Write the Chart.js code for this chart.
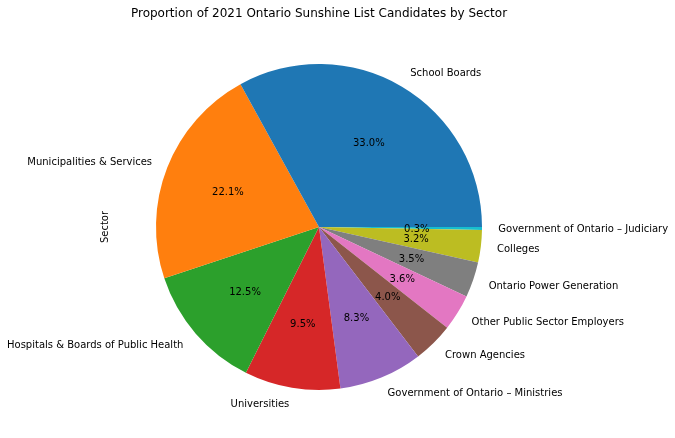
<!DOCTYPE html>
<html>
<head>
<meta charset="utf-8">
<script src="https://cdn.jsdelivr.net/npm/chart.js@4"></script>
<style>
  html, body { margin: 0; padding: 0; background: #ffffff; }
  #wrap { width: 675px; height: 438px; }
</style>
</head>
<body>
<div id="wrap"><canvas id="pieChart" width="675" height="438"></canvas></div>
<script>
// =========================
// DATA (matplotlib order, counterclockwise from 3 o'clock)
// =========================
const sectors = [
  "School Boards",
  "Municipalities & Services",
  "Hospitals & Boards of Public Health",
  "Universities",
  "Government of Ontario – Ministries",
  "Crown Agencies",
  "Other Public Sector Employers",
  "Ontario Power Generation",
  "Colleges",
  "Government of Ontario – Judiciary"
];
const shares = [33.0, 22.1, 12.5, 9.5, 8.3, 4.0, 3.6, 3.5, 3.2, 0.3];
const colors = ["#1f77b4", "#ff7f0e", "#2ca02c", "#d62728", "#9467bd",
                "#8c564b", "#e377c2", "#7f7f7f", "#bcbd22", "#17becf"];

// Chart.js draws clockwise, so reverse to get the counterclockwise look
const labels = sectors.slice().reverse();
const values = shares.slice().reverse();
const sliceColors = colors.slice().reverse();

const FONT = "DejaVu Sans, sans-serif";

// =========================
// LABELS / TITLE PLUGIN
// =========================
const pieText = {
  id: "pieText",
  afterDraw(chart) {
    const ctx = chart.ctx;
    const arcs = chart.getDatasetMeta(0).data;
    const total = values.reduce((a, b) => a + b, 0);
    ctx.save();
    ctx.fillStyle = "#000";
    ctx.font = "10px " + FONT;
    ctx.textBaseline = "middle";

    arcs.forEach((arc, i) => {
      const mid = (arc.startAngle + arc.endAngle) / 2;
      const r = arc.outerRadius;
      const cx = Math.cos(mid), cy = Math.sin(mid);

      // category label outside
      ctx.textAlign = cx >= 0 ? "left" : "right";
      ctx.fillText(labels[i], arc.x + cx * r * 1.1, arc.y + cy * r * 1.1 + 1);

      // percentage inside
      ctx.textAlign = "center";
      const pct = (values[i] / total * 100).toFixed(1) + "%";
      ctx.fillText(pct, arc.x + cx * r * 0.6, arc.y + cy * r * 0.6 + 1);
    });

    // title
    ctx.font = "12px " + FONT;
    ctx.textAlign = "center";
    ctx.fillText("Proportion of 2021 Ontario Sunshine List Candidates by Sector", 319, 14);

    // y label
    ctx.font = "10px " + FONT;
    ctx.translate(105, 227);
    ctx.rotate(-Math.PI / 2);
    ctx.fillText("Sector", 0, 0);
    ctx.restore();
  }
};

// =========================
// PIE CHART
// =========================
const ctx = document.getElementById("pieChart").getContext("2d");

new Chart(ctx, {
  type: "pie",
  data: {
    labels: labels,
    datasets: [{
      data: values,
      backgroundColor: sliceColors,
      borderWidth: 0
    }]
  },
  options: {
    responsive: false,
    animation: false,
    rotation: 90,
    layout: { padding: { left: 156, right: 193, top: 64, bottom: 48 } },
    plugins: {
      legend: { display: false },
      tooltip: { enabled: false }
    }
  },
  plugins: [pieText]
});
</script>
</body>
</html>
